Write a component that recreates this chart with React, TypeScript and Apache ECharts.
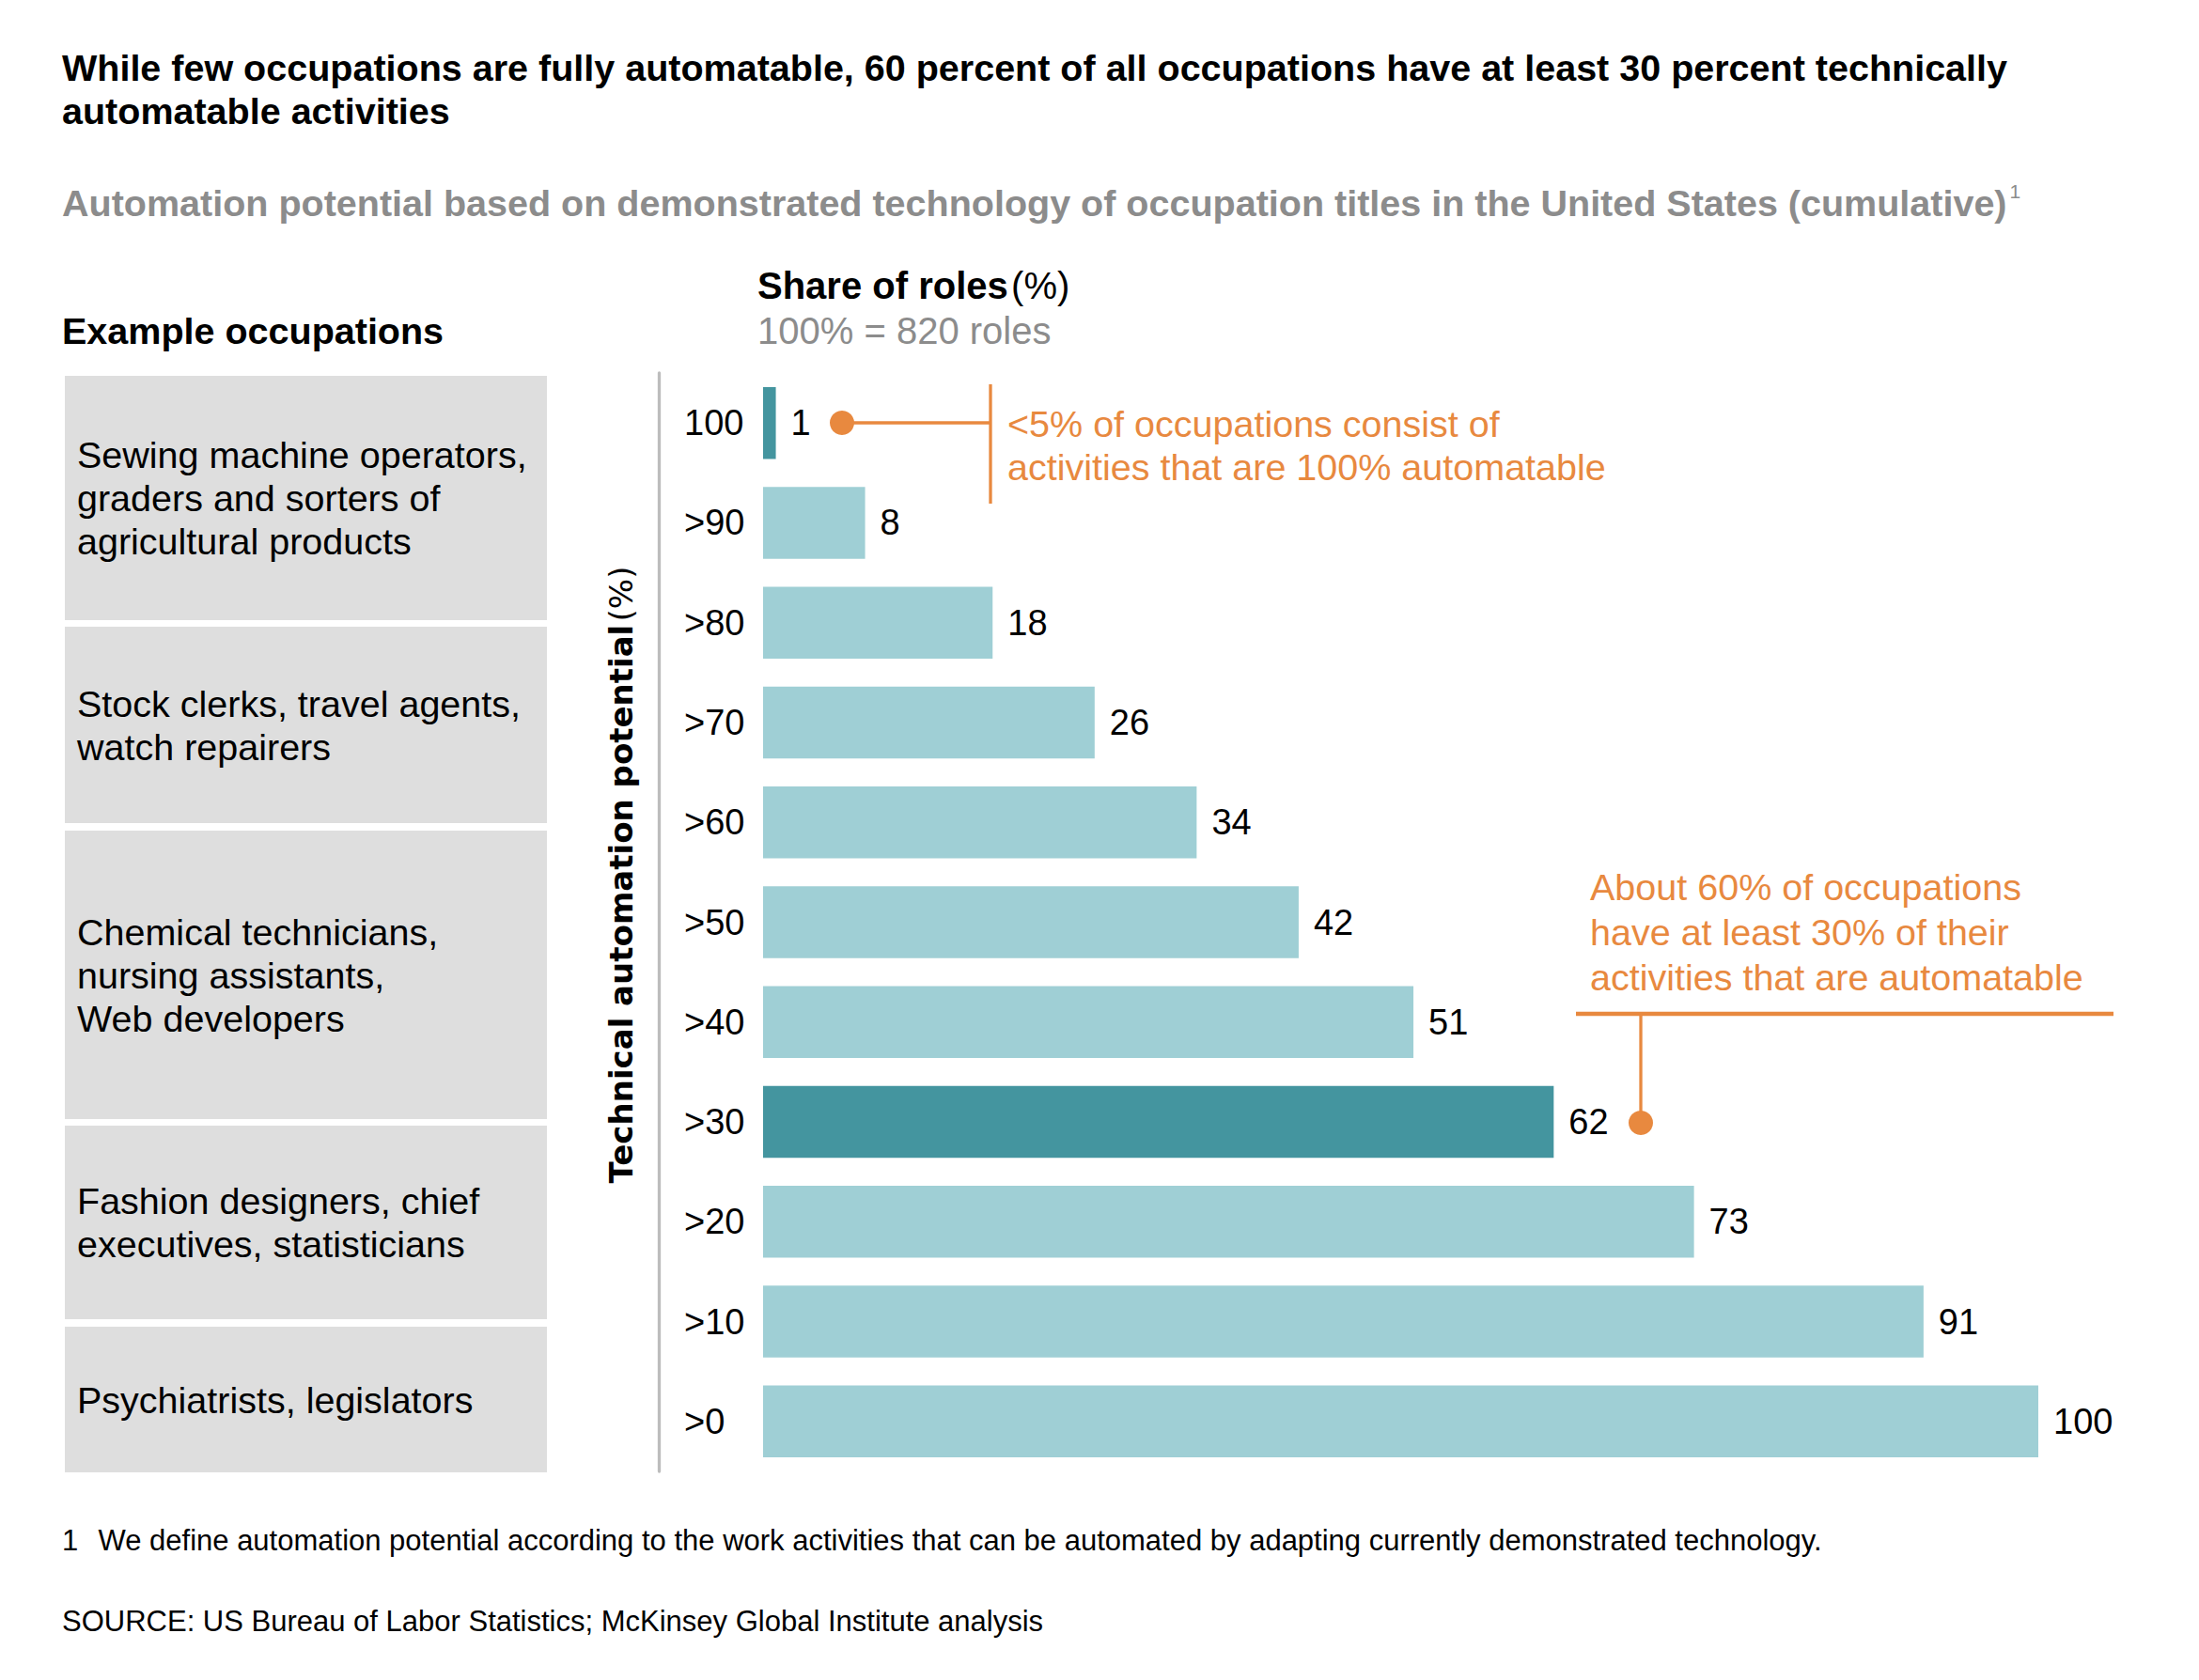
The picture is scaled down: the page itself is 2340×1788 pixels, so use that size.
import React, { useEffect, useRef } from 'react';
import * as echarts from 'echarts';

const categories = ['100', '>90', '>80', '>70', '>60', '>50', '>40', '>30', '>20', '>10', '>0'];
const shareOfRoles = [1, 8, 18, 26, 34, 42, 51, 62, 73, 91, 100];
const highlighted = ['100', '>30'];
const occupationGroups = [
  ['Sewing machine operators,', 'graders and sorters of', 'agricultural products'],
  ['Stock clerks, travel agents,', 'watch repairers'],
  ['Chemical technicians,', 'nursing assistants,', 'Web developers'],
  ['Fashion designers, chief', 'executives, statisticians'],
  ['Psychiatrists, legislators'],
];
const titleLines = [
  'While few occupations are fully automatable, 60 percent of all occupations have at least 30 percent technically',
  'automatable activities',
];
const subtitle = 'Automation potential based on demonstrated technology of occupation titles in the United States (cumulative)';
const annotationTop = ['<5% of occupations consist of', 'activities that are 100% automatable'];
const annotationMid = ['About 60% of occupations', 'have at least 30% of their', 'activities that are automatable'];
const footnote = 'We define automation potential according to the work activities that can be automated by adapting currently demonstrated technology.';
const source = 'SOURCE: US Bureau of Labor Statistics; McKinsey Global Institute analysis';

const FONT = '"Liberation Sans", Arial, sans-serif';
const ORANGE = '#e8893f';
const LIGHT = '#9fcfd5';
const DARK = '#44959f';
const GRAY_TEXT = '#8c8c8c';

// box layout (y top, y bottom) in page pixels
const boxLayout = [
  [400, 660],
  [667, 876],
  [884, 1191],
  [1198, 1404],
  [1412, 1567],
];

export default function App() {
  const ref = useRef<HTMLDivElement>(null);
  useEffect(() => {
    const chart = echarts.init(ref.current!, null, { renderer: 'svg' });

    const graphics: any[] = [];
    const txt = (text: string, x: number, y: number, extra: any = {}) => ({
      type: 'text',
      x,
      y,
      silent: true,
      style: {
        text,
        fontFamily: FONT,
        fontSize: 39.5,
        fill: '#000',
        textAlign: 'left',
        textVerticalAlign: 'middle',
        ...extra,
      },
    });

    graphics.push(txt(titleLines[0], 66, 72, { fontWeight: 'bold' }));
    graphics.push(txt(titleLines[1], 66, 118, { fontWeight: 'bold' }));
    graphics.push({
      type: 'text',
      x: 66,
      y: 216,
      silent: true,
      style: {
        text: `{s|${subtitle}}{sup|1}`,
        textVerticalAlign: 'middle',
        rich: {
          s: { fontFamily: FONT, fontSize: 39.5, fontWeight: 'bold', fill: GRAY_TEXT, lineHeight: 46 },
          sup: { fontFamily: FONT, fontSize: 21, fill: GRAY_TEXT, verticalAlign: 'top', lineHeight: 46, padding: [0, 0, 14, 3] },
        },
      },
    });
    graphics.push({
      type: 'text',
      x: 806,
      y: 304,
      silent: true,
      style: {
        text: '{b|Share of roles} {r|(%)}',
        textVerticalAlign: 'middle',
        rich: {
          b: { fontFamily: FONT, fontSize: 40, fontWeight: 'bold', fill: '#000' },
          r: { fontFamily: FONT, fontSize: 40, fill: '#000' },
        },
      },
    });
    graphics.push(txt('100% = 820 roles', 806, 352, { fill: GRAY_TEXT, fontSize: 40 }));
    graphics.push(txt('Example occupations', 66, 352, { fontWeight: 'bold' }));

    boxLayout.forEach(([top, bottom], i) => {
      graphics.push({
        type: 'rect',
        silent: true,
        shape: { x: 69, y: top, width: 513, height: bottom - top },
        style: { fill: '#dedede' },
      });
      graphics.push(
        txt(occupationGroups[i].join('\n'), 82, (top + bottom) / 2, { lineHeight: 46 })
      );
    });

    graphics.push({
      type: 'text',
      x: 661,
      y: 931,
      rotation: Math.PI / 2,
      silent: true,
      style: {
        text: '{b|Technical automation potential} {r|(%)}',
        textAlign: 'center',
        textVerticalAlign: 'middle',
        rich: {
          b: { fontFamily: '"DejaVu Sans", sans-serif', fontSize: 34, fontWeight: 'bold', fill: '#000' },
          r: { fontFamily: '"DejaVu Sans", sans-serif', fontSize: 34, fill: '#000' },
        },
      },
    });

    // annotation top
    graphics.push({
      type: 'line',
      silent: true,
      shape: { x1: 896, y1: 450, x2: 1054, y2: 450 },
      style: { stroke: ORANGE, lineWidth: 3.3 },
    });
    graphics.push({
      type: 'line',
      silent: true,
      shape: { x1: 1054, y1: 409, x2: 1054, y2: 536 },
      style: { stroke: ORANGE, lineWidth: 3.3 },
    });
    graphics.push({
      type: 'circle',
      silent: true,
      shape: { cx: 896, cy: 450, r: 13 },
      style: { fill: ORANGE },
    });
    graphics.push(txt(annotationTop.join('\n'), 1072, 474, { fill: ORANGE, lineHeight: 46.5 }));

    // annotation mid
    graphics.push(txt(annotationMid.join('\n'), 1692, 992, { fill: ORANGE, lineHeight: 47.8 }));
    graphics.push({
      type: 'line',
      silent: true,
      shape: { x1: 1677, y1: 1079, x2: 2249, y2: 1079 },
      style: { stroke: ORANGE, lineWidth: 4.5 },
    });
    graphics.push({
      type: 'line',
      silent: true,
      shape: { x1: 1746, y1: 1079, x2: 1746, y2: 1195 },
      style: { stroke: ORANGE, lineWidth: 3.3 },
    });
    graphics.push({
      type: 'circle',
      silent: true,
      shape: { cx: 1746, cy: 1195, r: 13 },
      style: { fill: ORANGE },
    });

    graphics.push(txt('1', 66, 1639, { fontSize: 31 }));
    graphics.push(txt(footnote, 104.5, 1639, { fontSize: 31 }));
    graphics.push(txt(source, 66, 1725, { fontSize: 31 }));

    const option: any = {
      animation: false,
      backgroundColor: '#ffffff',
      grid: { left: 812, right: 171, top: 397, height: 1169, containLabel: false },
      xAxis: {
        type: 'value',
        min: 0,
        max: 100,
        show: false,
      },
      yAxis: {
        type: 'category',
        data: categories,
        inverse: true,
        offset: 111,
        axisLine: { show: true, onZero: false, lineStyle: { color: '#bdbdbd', width: 3.3 } },
        axisTick: { show: false },
        axisLabel: {
          inside: true,
          margin: 27,
          align: 'left',
          fontFamily: FONT,
          fontSize: 38,
          color: '#000',
        },
        splitLine: { show: false },
      },
      series: [
        {
          type: 'bar',
          barWidth: 76.5,
          data: shareOfRoles.map((v, i) => ({
            value: v,
            itemStyle: { color: highlighted.includes(categories[i]) ? DARK : LIGHT },
          })),
          label: {
            show: true,
            position: 'right',
            distance: 16,
            fontFamily: FONT,
            fontSize: 38,
            color: '#000',
          },
        },
      ],
      graphic: graphics,
    };
    chart.setOption(option);
    return () => chart.dispose();
  }, []);
  return (
    <div
      ref={ref}
      style={{ position: 'absolute', left: 0, top: 0, width: 2340, height: 1788, background: '#fff' }}
    />
  );
}
